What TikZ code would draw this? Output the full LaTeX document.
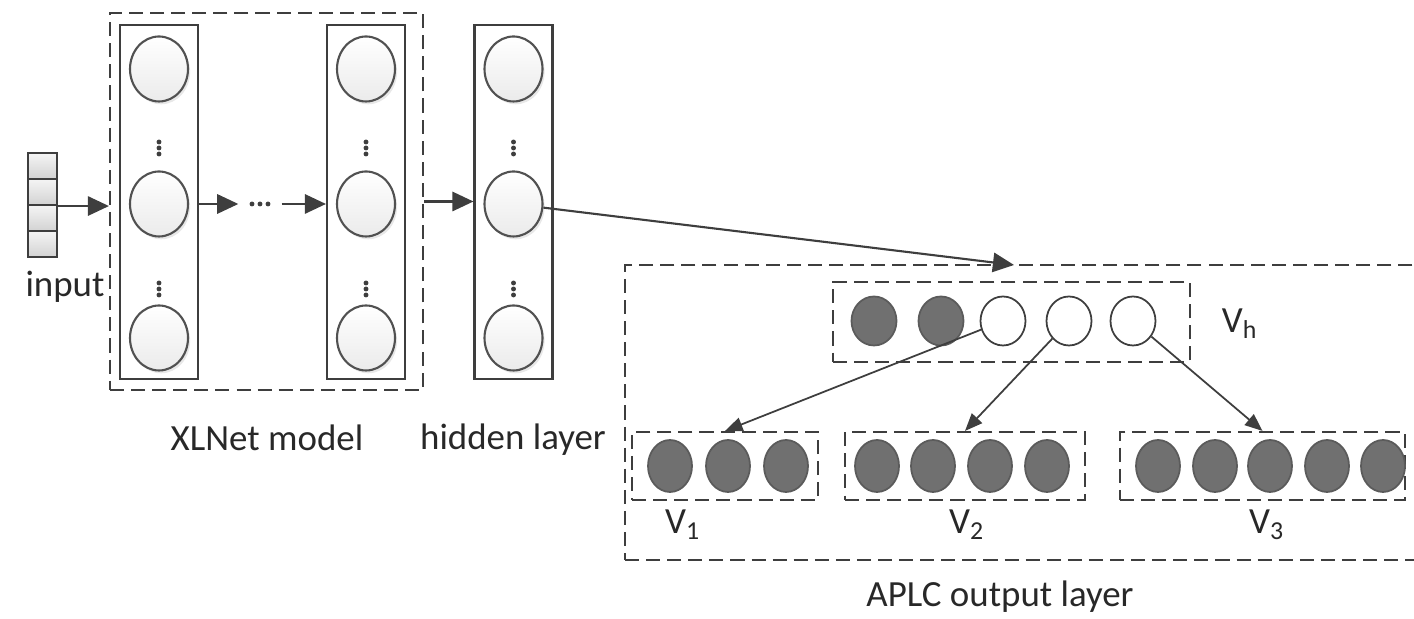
\documentclass[tikz,border=0pt]{standalone}
\usepackage{fontspec}
\setmainfont{Carlito}
\usepackage{tikz}
\usetikzlibrary{arrows.meta,shapes.geometric,shadows}
\definecolor{lineGray}{RGB}{62,62,62}
\definecolor{textGray}{RGB}{40,40,40}
\definecolor{unitGray}{RGB}{112,112,112}

\begin{document}
\begin{tikzpicture}[
    font=\fontsize{10.5}{12}\selectfont, text=textGray,
    dbox/.style={rectangle,draw=lineGray,line width=0.6pt,
                 dash pattern=on 4pt off 2pt,inner sep=0pt},
    colbox/.style={rectangle,draw=lineGray,line width=0.6pt,inner sep=0pt,
                   minimum width=0.78cm,minimum height=3.54cm},
    unitLight/.style={ellipse,draw=lineGray!90,line width=0.6pt,inner sep=0pt,
                      minimum width=0.58cm,minimum height=0.65cm,
                      top color=white,bottom color=gray!16,
                      drop shadow={opacity=0.18,shadow xshift=0.6pt,shadow yshift=-0.8pt}},
    unitFull/.style={ellipse,draw=lineGray!85,line width=0.5pt,inner sep=0pt,
                     fill=unitGray,minimum width=0.44cm,minimum height=0.52cm},
    unitOpen/.style={ellipse,draw=lineGray,line width=0.5pt,inner sep=0pt,
                     fill=white,minimum width=0.44cm,minimum height=0.49cm},
    cell/.style={rectangle,draw=lineGray,line width=0.6pt,inner sep=0pt,
                 minimum width=0.29cm,minimum height=0.26cm,
                 top color=gray!8,bottom color=gray!35},
    dotmark/.style={circle,fill=lineGray,inner sep=0pt,minimum size=1.4pt},
    arr/.style={-{Triangle[length=6pt,width=5.5pt]},draw=lineGray,line width=0.6pt},
    arrs/.style={-{Triangle[length=5pt,width=4pt]},draw=lineGray,line width=0.5pt}]
  \useasboundingbox (0,0) rectangle (14.14,-6.19);

  % Entrada
  \foreach \k/\y in {1/-1.66,2/-1.92,3/-2.18,4/-2.44}
    \node[cell] (in\k) at (0.425,\y) {};
  \node (lin) at (0.65,-2.87) {input};

  % XLNet e camada oculta
  \node[dbox,minimum width=3.13cm,minimum height=3.77cm] (xlnet) at (2.665,-2.015) {};
  \foreach \n/\x in {a/1.59,b/3.66,h/5.135}{
    \node[colbox] (\n) at (\x,-2.02) {};
    \foreach \k/\y in {1/-0.69,2/-2.04,3/-3.38}
      \node[unitLight] (\n\k) at (\x,\y) {};
    \foreach \j in {1,2,3}{
      \node[dotmark] (\n p\j) at (\x,-1.36-\j*0.06) {};
      \node[dotmark] (\n q\j) at (\x,-2.77-\j*0.06) {};
    }
  }
  \node[inner sep=0pt,minimum width=0.42cm,minimum height=0.1cm] (mid) at (2.60,-2.04) {};
  \foreach \j in {1,2,3}
    \node[dotmark] (m\j) at (2.44+\j*0.08,-2.04) {};
  \node (lxl) at (2.67,-4.38) {XLNet model};
  \node (lhid) at (5.13,-4.40) {hidden layer};

  \draw[arr] (in2.south east) -- (in2.south east -| xlnet.west);
  \draw[arr] (a.east |- mid) -- (mid.west);
  \draw[arr] (mid.east) -- (mid -| b.west);
  \draw[arr] (xlnet.east) -- (xlnet.east -| h.west);

  % Camada de saida APLC
  \node[dbox,minimum width=8.05cm,minimum height=2.95cm] (aplc) at (10.275,-4.125) {};
  \coordinate (tip) at (10.14,-2.65);
  \draw[arr] (h2) -- (tip);

  \node[dbox,minimum width=3.57cm,minimum height=0.80cm] (vh) at (10.115,-3.22) {};
  \foreach \k/\x/\s in {1/8.74/unitFull,2/9.41/unitFull,3/10.03/unitOpen,
                        4/10.69/unitOpen,5/11.33/unitOpen}
    \node[\s,minimum width=0.45cm,minimum height=0.49cm] (u\k) at (\x,-3.21) {};
  \node (lvh) at (12.40,-3.24) {V\textsubscript{h}};

  \foreach \b/\x/\w in {b1/7.25/1.86,b2/9.65/2.40,b3/12.625/2.85}
    \node[dbox,minimum width=\w cm,minimum height=0.68cm] (\b) at (\x,-4.66) {};
  \foreach \x [count=\i] in {6.70,7.28,7.86,8.77,9.33,9.90,10.47,
                             11.58,12.15,12.70,13.27,13.83}
    \node[unitFull] (o\i) at (\x,-4.66) {};

  \draw[arrs] (u3) -- (b1.north);
  \draw[arrs] (u4) -- (b2.north);
  \draw[arrs] (u5) -- (b3.north);

  \node (lv1) at (6.83,-5.25) {V\textsubscript{1}};
  \node (lv2) at (9.67,-5.25) {V\textsubscript{2}};
  \node (lv3) at (12.67,-5.25) {V\textsubscript{3}};
  \node (lout) at (10.0,-5.97) {APLC output layer};
\end{tikzpicture}
\end{document}
